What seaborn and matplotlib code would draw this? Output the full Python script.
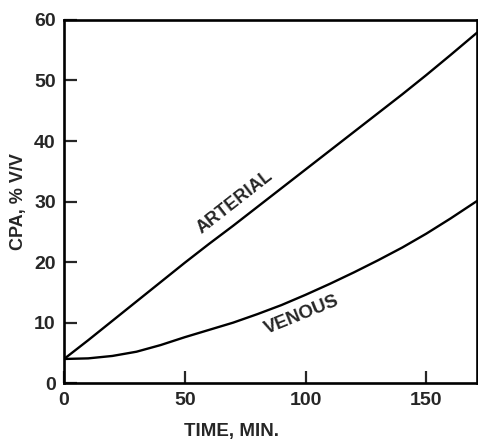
import pandas as pd
import numpy as np
import matplotlib
matplotlib.use('Agg')
import matplotlib.pyplot as plt
import seaborn as sns

# values
time_min = [0, 10, 20, 30, 40, 50, 60, 70, 80, 90, 100, 110, 120, 130, 140, 150, 160, 171]
arterial = [4.0, 7.1, 10.3, 13.5, 16.7, 19.9, 23.0, 26.0, 29.1, 32.2, 35.3, 38.4, 41.5, 44.6, 47.7, 50.9, 54.2, 57.9]
venous = [4.0, 4.1, 4.5, 5.2, 6.3, 7.6, 8.8, 10.0, 11.4, 12.9, 14.6, 16.4, 18.3, 20.3, 22.4, 24.7, 27.2, 30.1]
x_ticks = [0, 50, 100, 150]
y_ticks = [0, 10, 20, 30, 40, 50, 60]

df = pd.DataFrame({'time': time_min * 2,
                   'cpa': arterial + venous,
                   'sample': ['ARTERIAL'] * len(time_min) + ['VENOUS'] * len(time_min)})

sns.set_style('ticks')
plt.rcParams['font.family'] = ['Liberation Sans', 'DejaVu Sans']
plt.rcParams['font.weight'] = 'bold'

fig = plt.figure(figsize=(4.78, 4.43), dpi=100)
ax = fig.add_axes([0.134, 0.135, 0.864, 0.82])

sns.lineplot(data=df, x='time', y='cpa', hue='sample', palette=['black', 'black'],
             linewidth=1.7, legend=False, ax=ax)

ax.set_xlim(0, 171)
ax.set_ylim(0, 60)
ax.set_xticks(x_ticks)
ax.set_yticks(y_ticks)
ax.tick_params(direction='in', length=9, width=1.6, labelsize=14, pad=6,
               top=False, right=False)
for lab in ax.get_xticklabels() + ax.get_yticklabels():
    lab.set_fontweight('bold')
for s in ax.spines.values():
    s.set_linewidth(1.9)
    s.set_color('black')

ax.set_xlabel('TIME, MIN.', fontsize=13.5, fontweight='bold')
ax.set_ylabel('CPA, % V/V', fontsize=13, fontweight='bold')
ax.xaxis.set_label_coords(0.405, -0.11)
ax.yaxis.set_label_coords(-0.09, 0.5)

ax.text(70.7, 29.8, 'ARTERIAL', rotation=38, ha='center', va='center',
        fontsize=13, fontweight='bold')
ax.text(98.3, 11.2, 'VENOUS', rotation=22, ha='center', va='center',
        fontsize=13.5, fontweight='bold')

fig.savefig('out.png', dpi=100)
